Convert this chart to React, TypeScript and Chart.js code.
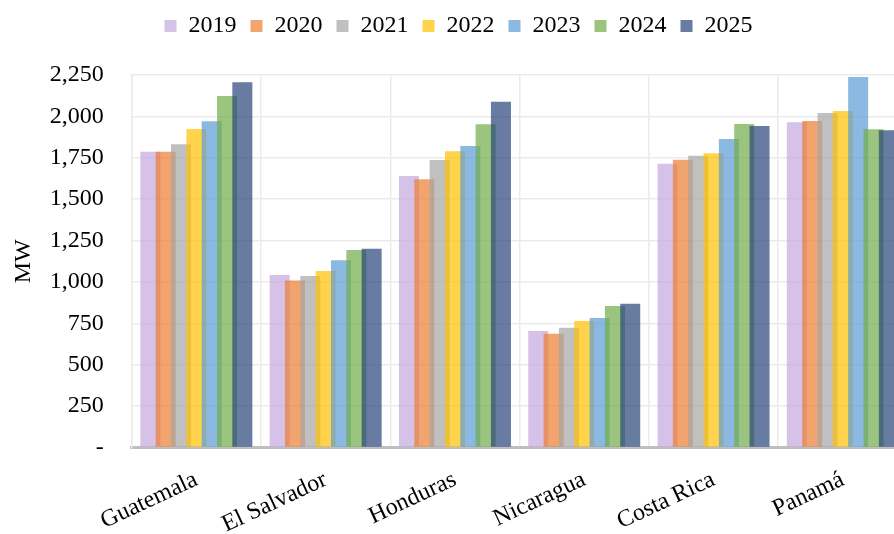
import React, { useEffect, useRef } from 'react';
import { Chart, registerables } from 'chart.js';

Chart.register(...registerables);

const categories = ['Guatemala', 'El Salvador', 'Honduras', 'Nicaragua', 'Costa Rica', 'Panamá'];
const seriesLabels = ['2019', '2020', '2021', '2022', '2023', '2024', '2025'];

const v2019 = [1787, 1042, 1640, 704, 1714, 1964];
const v2020 = [1787, 1008, 1620, 687, 1738, 1972];
const v2021 = [1831, 1036, 1736, 724, 1763, 2020];
const v2022 = [1924, 1066, 1789, 764, 1777, 2032];
const v2023 = [1970, 1131, 1821, 782, 1863, 2238];
const v2024 = [2123, 1193, 1952, 855, 1954, 1922];
const v2025 = [2206, 1201, 2089, 869, 1942, 1916];

const seriesValues = [v2019, v2020, v2021, v2022, v2023, v2024, v2025];
const seriesColors = [
  'rgba(196,166,224,0.7)',
  'rgba(237,125,49,0.7)',
  'rgba(165,165,165,0.7)',
  'rgba(255,192,0,0.7)',
  'rgba(91,155,213,0.7)',
  'rgba(112,173,71,0.7)',
  'rgba(38,68,120,0.7)',
];

const yMax = 2250;
const yStep = 250;
const yTitle = 'MW';

const FONT = "'Liberation Serif', 'Times New Roman', serif";
const FS = 24;

export default function App() {
  const ref = useRef<HTMLCanvasElement>(null);

  useEffect(() => {
    if (!ref.current) return;

    const legendHeightPlugin = {
      id: 'legendHeight',
      afterInit(chart: any) {
        const lg = chart.legend;
        if (!lg) return;
        const orig = lg.fit.bind(lg);
        lg.fit = function () {
          orig();
          this.height = 75;
        };
      },
    };

    const drawOrderPlugin = {
      id: 'drawOrder',
      beforeDatasetsDraw(chart: any) {
        const ctx = chart.ctx;
        const a = chart.chartArea;
        ctx.save();
        ctx.beginPath();
        ctx.rect(a.left, a.top, a.right - a.left, a.bottom - a.top);
        ctx.clip();
        chart.getSortedVisibleDatasetMetas().forEach((m: any) => m.controller.draw());
        ctx.restore();
        return false;
      },
    };

    const chart = new Chart(ref.current, {
      type: 'bar',
      data: {
        labels: categories,
        datasets: seriesLabels.map((lab, i) => ({
          label: lab,
          data: seriesValues[i],
          backgroundColor: seriesColors[i],
          borderWidth: 0,
          categoryPercentage: 0.83,
          barPercentage: 1.305,
        })),
      },
      options: {
        responsive: false,
        animation: false,
        devicePixelRatio: 1,
        layout: { padding: { left: 9.5, right: 4.5, top: 0, bottom: 0 } },
        plugins: {
          legend: {
            position: 'top',
            labels: {
              boxWidth: 12,
              boxHeight: 12,
              padding: 14,
              color: '#000',
              font: { family: FONT, size: FS },
            },
          },
          tooltip: { enabled: false },
        },
        scales: {
          x: {
            z: 1,
            grid: {
              display: true,
              offset: true,
              color: '#EBEBEB',
              lineWidth: 1.5,
              drawTicks: false,
            },
            border: { display: true, color: '#BFBFBF', width: 3 },
            ticks: {
              autoSkip: false,
              minRotation: 25,
              maxRotation: 25,
              padding: 18,
              color: '#000',
              font: { family: FONT, size: FS },
            },
            afterFit(scale: any) {
              scale.height = 86.5;
            },
          },
          y: {
            min: 0,
            max: yMax,
            grid: { color: '#EBEBEB', lineWidth: 1.5, drawTicks: false },
            border: { display: true, color: '#EBEBEB', width: 1.5 },
            ticks: {
              stepSize: yStep,
              padding: 28,
              color: '#000',
              font: { family: FONT, size: FS },
              callback: (v: any) => (Number(v) === 0 ? '-' : Number(v).toLocaleString('en-US')),
            },
            title: {
              display: true,
              text: yTitle,
              color: '#000',
              padding: { top: 0, bottom: 0 },
              font: { family: FONT, size: FS },
            },
            afterFit(scale: any) {
              scale.width = 122.2;
            },
          },
        },
      },
      plugins: [legendHeightPlugin, drawOrderPlugin],
    } as any);

    return () => chart.destroy();
  }, []);

  return (
    <div
      style={{
        position: 'fixed',
        left: 0,
        top: 0,
        width: 894,
        height: 534,
        overflow: 'hidden',
        background: '#fff',
      }}
    >
      <canvas ref={ref} width={912} height={534} style={{ display: 'block', width: 912, height: 534 }} />
    </div>
  );
}
